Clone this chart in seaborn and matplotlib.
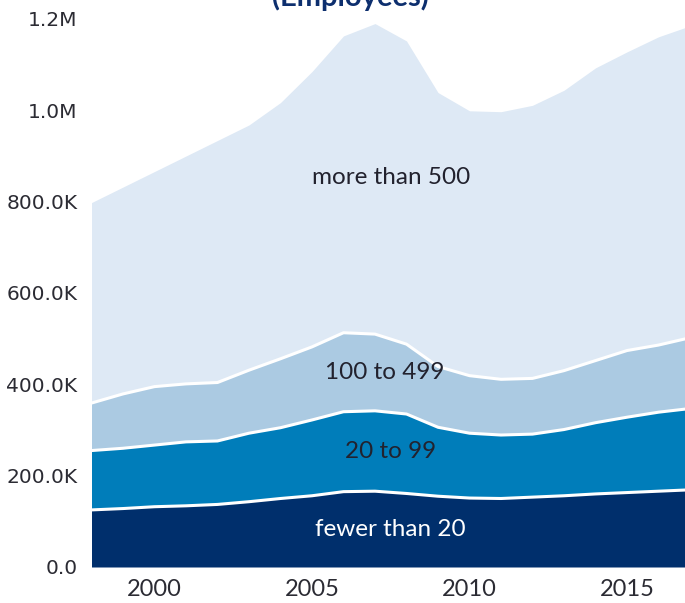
import matplotlib
matplotlib.use("Agg")
import numpy as np
import pandas as pd
import seaborn as sns
import matplotlib.pyplot as plt
from matplotlib.ticker import FuncFormatter

# datos (empleados, por tamano de empresa)
years = list(range(1998, 2018))
fewer_than_20 = [125, 128, 132, 134, 137, 143, 150, 156, 165, 166,
                 161, 155, 151, 150, 153, 156, 160, 163, 166, 169]
from_20_to_99 = [130, 132, 135, 140, 139, 150, 155, 166, 175, 176,
                 174, 151, 142, 139, 138, 145, 156, 165, 173, 178]
from_100_to_499 = [104, 119, 128, 127, 128, 138, 151, 160, 173, 168,
                   153, 133, 126, 122, 122, 129, 136, 146, 147, 155]
more_than_500 = [439, 453, 471, 499, 530, 537, 561, 603, 650, 680,
                 664, 600, 580, 586, 598, 614, 641, 654, 675, 683]
labels = ["fewer than 20", "20 to 99", "100 to 499", "more than 500"]
colors = ["#002f6c", "#007dba", "#abcae2", "#dee9f5"]

df = pd.DataFrame({
    "year": years,
    labels[0]: np.array(fewer_than_20) * 1000,
    labels[1]: np.array(from_20_to_99) * 1000,
    labels[2]: np.array(from_100_to_499) * 1000,
    labels[3]: np.array(more_than_500) * 1000,
})

sns.set_theme(style="white")
plt.rcParams["font.family"] = ["DejaVu Sans"]

fig = plt.figure(figsize=(6.85, 6.03), dpi=100)
ax = fig.add_axes([91.5 / 685, 1 - 567 / 603, (690 - 91.5) / 685, (567 - 19) / 603])

ax.stackplot(df["year"], [df[c] for c in labels], colors=colors, linewidth=0)

# lineas blancas entre capas
cum = df[labels].cumsum(axis=1)
for c in labels[:3]:
    sns.lineplot(x=df["year"], y=cum[c], ax=ax, color="white", linewidth=2.2)

ax.set_xlim(1998, 2017)
ax.set_ylim(0, 1200000)
ax.set_xticks([2000, 2005, 2010, 2015])
ax.set_yticks(np.arange(0, 1200001, 200000))


def fmt(v, pos):
    if v == 0:
        return "0.0"
    if v >= 1e6:
        return f"{v / 1e6:.1f}M"
    return f"{v / 1e3:.1f}K"


ax.yaxis.set_major_formatter(FuncFormatter(fmt))
ax.set_xlabel("")
ax.set_ylabel("")
for s in ax.spines.values():
    s.set_visible(False)
ax.tick_params(axis="y", length=0, pad=10, labelsize=14.5, labelcolor="#2b2b33")
ax.tick_params(axis="x", length=0, pad=9, labelsize=17, labelcolor="#2b2b33")
for t in ax.get_xticklabels():
    t.set_family("Lato")

# etiquetas de las capas
txt = dict(ha="center", va="center", fontsize=17.5, family="Lato")
ax.text(2007.5, 852000, "more than 500", color="#22222e", **txt)
ax.text(2007.3, 425000, "100 to 499", color="#22222e", **txt)
ax.text(2007.5, 254000, "20 to 99", color="#22222e", **txt)
ax.text(2007.5, 83000, "fewer than 20", color="white", **txt)

# titulo (recortado arriba como en la imagen)
fig.text(0.512, 1 - 6 / 603, "Total Employment by Firm Size\n(Employees)", ha="center", va="baseline",
         fontsize=21, fontweight="bold", family="Lato", color="#0d2f6e", linespacing=1.2)

fig.savefig("out.png", dpi=100)
